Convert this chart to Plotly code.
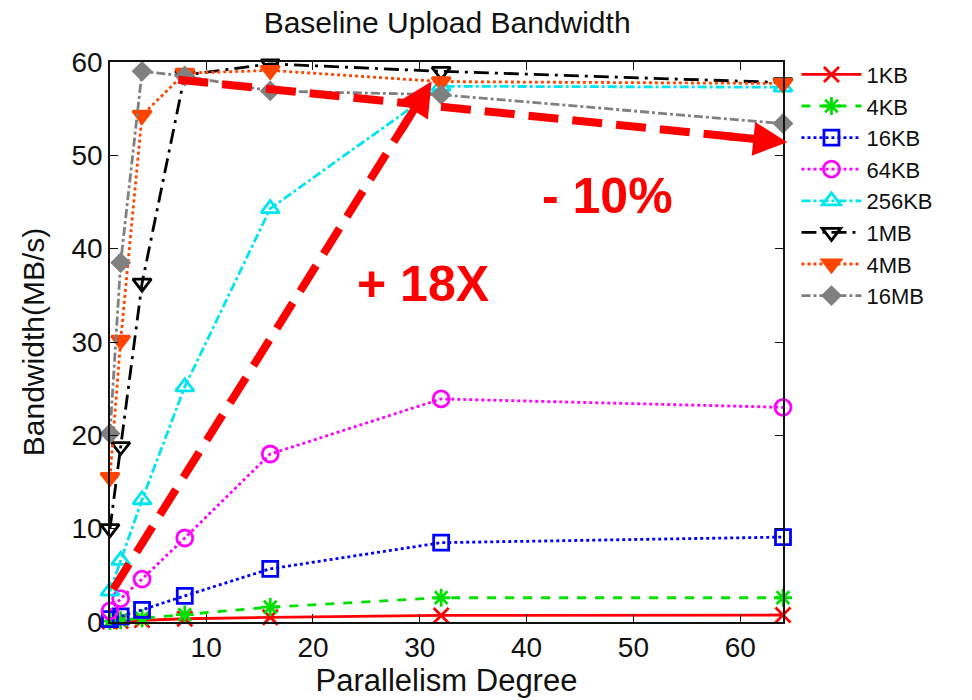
import plotly.graph_objects as go

x_vals = [1, 2, 4, 8, 16, 32, 64]
names = ["1KB", "4KB", "16KB", "64KB", "256KB", "1MB", "4MB", "16MB"]
bw_1kb = [0.05, 0.1, 0.2, 0.35, 0.5, 0.7, 0.75]
bw_4kb = [0.1, 0.2, 0.4, 0.8, 1.6, 2.6, 2.6]
bw_16kb = [0.3, 0.6, 1.3, 2.8, 5.7, 8.5, 9.1]
bw_64kb = [1.2, 2.5, 4.6, 9.0, 18.0, 23.9, 23.0]
bw_256kb = [3.3, 6.6, 13.1, 25.2, 44.3, 57.4, 57.3]
bw_1mb = [10.0, 18.8, 36.3, 58.6, 59.8, 59.0, 57.8]
bw_4mb = [15.5, 30.2, 54.3, 58.8, 59.1, 57.9, 57.7]
bw_16mb = [20.2, 38.5, 59.0, 58.5, 56.9, 56.5, 53.4]

series = [bw_1kb, bw_4kb, bw_16kb, bw_64kb, bw_256kb, bw_1mb, bw_4mb, bw_16mb]
colors = ["#ff0000", "#00e000", "#0000ff", "#ff00ff", "#00e5ee", "#000000", "#ff4500", "#808080"]
dashes = ["solid", "dash", "dot", "dot", "dashdot", "longdashdot", "dot", "dashdot"]
symbols = ["x-thin-open", "asterisk-open", "square-open", "circle-open",
           "triangle-up-open", "triangle-down-open", "triangle-down", "diamond"]
sizes = [15, 15, 15, 16, 16, 16, 16, 13]

fig = go.Figure()
for nm, ys, c, d, s, sz in zip(names, series, colors, dashes, symbols, sizes):
    fig.add_trace(go.Scatter(
        x=x_vals, y=ys, name=nm, mode="lines+markers",
        line=dict(color=c, width=2.8, dash=d),
        marker=dict(symbol=s, size=sz, color=c, line=dict(color=c, width=2.8)),
        cliponaxis=False,
    ))

# arrows (annotations)
arrows = [((1.3, 3.5), (31.1, 57.9)), ((7.4, 58.1), (64.4, 51.4))]
for (x0, y0), (x1, y1) in arrows:
    fx = 0.93
    fig.add_shape(type="line", x0=x0, y0=y0,
                  x1=x0 + (x1 - x0) * fx, y1=y0 + (y1 - y0) * fx,
                  line=dict(color="#ff0000", width=8, dash="30px,14px"), layer="above")
    fig.add_annotation(x=x1, y=y1, ax=x0 + (x1 - x0) * 0.9, ay=y0 + (y1 - y0) * 0.9,
                       axref="x", ayref="y", xref="x", yref="y", text="",
                       showarrow=True, arrowhead=2, arrowsize=0.85, arrowwidth=8,
                       arrowcolor="#ff0000")

fig.add_annotation(x=30.3, y=36.2, text="<b>+ 18X</b>", showarrow=False,
                   font=dict(size=50, color="#ff0000", family="Liberation Sans, Arial"))
fig.add_annotation(x=47.6, y=45.6, text="<b>- 10%</b>", showarrow=False,
                   font=dict(size=50, color="#ff0000", family="Liberation Sans, Arial"))

fig.update_layout(
    width=972, height=700,
    margin=dict(l=110, r=189, t=62, b=78),
    paper_bgcolor="white", plot_bgcolor="white",
    font=dict(family="Liberation Sans, Arial", size=27, color="#111"),
    title=dict(text="Baseline Upload Bandwidth", x=0.46, xanchor="center",
               y=0.968, yanchor="middle", font=dict(size=30, color="#111")),
    legend=dict(x=1.02, y=1.015, xanchor="left", yanchor="top",
                font=dict(size=22), tracegroupgap=0, itemwidth=60,
                bgcolor="rgba(0,0,0,0)"),
    showlegend=True,
)
fig.update_xaxes(range=[1, 64], tickvals=[10, 20, 30, 40, 50, 60],
                 ticks="inside", ticklen=8, tickcolor="#111", showline=True,
                 linecolor="#111", linewidth=1.5, mirror="allticks", showgrid=False,
                 zeroline=False, title=dict(text="Parallelism Degree", standoff=4,
                                            font=dict(size=31)),
                 tickfont=dict(size=28))
fig.update_yaxes(range=[0, 60], tickvals=[0, 10, 20, 30, 40, 50, 60],
                 ticks="inside", ticklen=8, tickcolor="#111", showline=True,
                 linecolor="#111", linewidth=1.5, mirror="allticks", showgrid=False,
                 zeroline=False, title=dict(text="Bandwidth(MB/s)", standoff=18,
                                            font=dict(size=30)),
                 tickfont=dict(size=28))

fig.write_html("out.html")
